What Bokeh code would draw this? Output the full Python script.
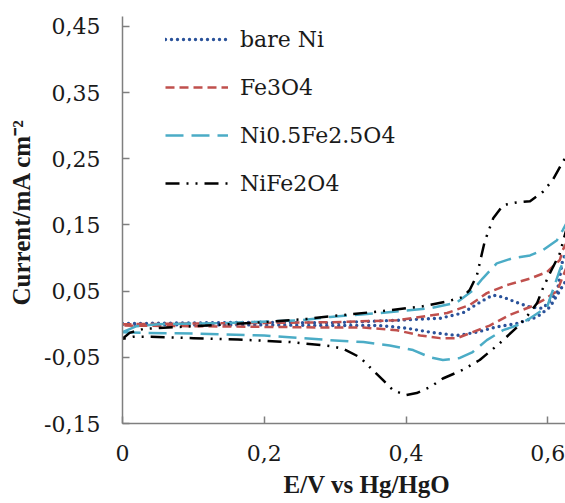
from bokeh.plotting import figure
from bokeh.models import Range1d, FixedTicker, Legend, LegendItem, Title
from bokeh.embed import file_html
from bokeh.resources import INLINE

# ---- data (E / V vs Hg/HgO, I / mA cm-2), forward sweep then return sweep ----
series_names = ["bare Ni", "Fe3O4", "Ni0.5Fe2.5O4", "NiFe2O4"]

bare_ni_E = [0, 0.1, 0.2, 0.293, 0.387, 0.448, 0.480, 0.504, 0.522, 0.537, 0.556, 0.575, 0.593,
             0.613, 0.621, 0.635,
             0.628, 0.603, 0.585, 0.556, 0.528, 0.500, 0.472, 0.434, 0.401, 0.363, 0.293, 0.2, 0.1, 0]
bare_ni_I = [0.001, 0.002, 0.003, 0.002, 0.006, 0.009, 0.017, 0.033, 0.044, 0.041, 0.033, 0.026, 0.024,
             0.047, 0.097, 0.13,
             0.07, 0.026, 0.011, 0.001, -0.004, -0.012, -0.017, -0.012, -0.006, -0.002, -0.002, -0.001, -0.001, 0.0]

fe3o4_E = [0, 0.1, 0.2, 0.293, 0.387, 0.458, 0.490, 0.514, 0.542, 0.575, 0.599, 0.617, 0.621, 0.635,
           0.628, 0.613, 0.593, 0.575, 0.546, 0.518, 0.494, 0.472, 0.448, 0.420, 0.387, 0.340, 0.293, 0.2, 0.1, 0]
fe3o4_I = [0.0, 0.001, 0.002, 0.003, 0.006, 0.017, 0.029, 0.047, 0.059, 0.069, 0.079, 0.097, 0.112, 0.14,
           0.09, 0.05, 0.036, 0.026, 0.014, -0.002, -0.012, -0.021, -0.021, -0.017, -0.009, -0.005, -0.005,
           -0.004, -0.003, -0.002]

ni05_E = [0, 0.02, 0.05, 0.15, 0.25, 0.293, 0.363, 0.434, 0.472, 0.494, 0.508, 0.528, 0.551, 0.575,
          0.593, 0.613, 0.621, 0.635,
          0.628, 0.617, 0.599, 0.575, 0.556, 0.537, 0.514, 0.494, 0.476, 0.452, 0.434, 0.410, 0.377, 0.340,
          0.293, 0.2, 0.1, 0.03, 0]
ni05_I = [-0.012, -0.003, 0.0, 0.002, 0.006, 0.011, 0.017, 0.024, 0.033, 0.051, 0.069, 0.092, 0.100, 0.104,
          0.112, 0.127, 0.142, 0.17,
          0.11, 0.082, 0.026, 0.009, -0.002, -0.009, -0.024, -0.042, -0.051, -0.054, -0.050, -0.039, -0.032,
          -0.027, -0.024, -0.017, -0.014, -0.013, -0.012]

nife2o4_E = [0, 0.01, 0.03, 0.1, 0.2, 0.26, 0.293, 0.359, 0.423, 0.46, 0.48, 0.49, 0.5, 0.511, 0.523,
             0.537, 0.556, 0.575, 0.593, 0.607, 0.621, 0.635,
             0.628, 0.617, 0.603, 0.593, 0.585, 0.570, 0.556, 0.532, 0.504, 0.480, 0.452, 0.434, 0.415,
             0.400, 0.382, 0.368, 0.349, 0.335, 0.311, 0.293, 0.237, 0.163, 0.1, 0.04, 0.015, 0]
nife2o4_I = [-0.022, -0.013, -0.007, -0.003, 0.003, 0.008, 0.012, 0.019, 0.027, 0.035, 0.041, 0.052, 0.074,
             0.125, 0.160, 0.180, 0.184, 0.186, 0.200, 0.218, 0.245, 0.27,
             0.15, 0.107, 0.077, 0.054, 0.032, 0.011, -0.005, -0.029, -0.054, -0.069, -0.082, -0.095, -0.104,
             -0.107, -0.100, -0.085, -0.065, -0.050, -0.037, -0.033, -0.027, -0.023, -0.021, -0.019, -0.019,
             -0.022]

x_ticks = [0, 0.2, 0.4, 0.6]
x_tick_labels = ["0", "0,2", "0,4", "0,6"]
y_ticks = [-0.15, -0.05, 0.05, 0.15, 0.25, 0.35, 0.45]
y_tick_labels = ["-0,15", "-0,05", "0,05", "0,15", "0,25", "0,35", "0,45"]

x_title = "E/V vs Hg/HgO"
y_title = "Current/mA cm\u207b\u00b2"

BOLD_FONT = "'Liberation Serif', 'Times New Roman', Times, serif"
REG_FONT = "'DejaVu Serif', serif"

p = figure(width=565, height=503, output_backend="svg", toolbar_location=None,
           x_range=Range1d(0, 0.625), y_range=Range1d(-0.15, 0.465),
           min_border_left=122, min_border_right=0, min_border_top=16, min_border_bottom=80)
p.outline_line_color = None
p.background_fill_color = "white"
p.border_fill_color = "white"
p.xgrid.visible = False
p.ygrid.visible = False

for ax, ticks, labels in ((p.xaxis[0], x_ticks, x_tick_labels), (p.yaxis[0], y_ticks, y_tick_labels)):
    ax.ticker = FixedTicker(ticks=ticks)
    ax.major_label_overrides = {t: l for t, l in zip(ticks, labels)}
    ax.minor_tick_line_color = None
    ax.major_tick_in = 7
    ax.major_tick_out = 0
    ax.axis_line_color = "#7f7f7f"
    ax.axis_line_width = 1.5
    ax.major_tick_line_color = "#7f7f7f"
    ax.major_tick_line_width = 1.5
    ax.major_label_text_font = REG_FONT
    ax.major_label_text_font_size = "22px"
    ax.major_label_text_color = "#1a1a1a"
p.yaxis[0].major_label_standoff = 22
p.xaxis[0].major_label_standoff = 21

styles = [
    (bare_ni_E, bare_ni_I, "#2a529a", "0 6", 3.4, "round"),
    (fe3o4_E, fe3o4_I, "#c0504d", "9 5", 2.5, "butt"),
    (ni05_E, ni05_I, "#4bacc6", "18 8", 2.5, "butt"),
    (nife2o4_E, nife2o4_I, "#000000", "14 7 2 7 2 7", 2.5, "butt"),
]
items = []
for name, (xs, ys, col, dash, lw, cap) in zip(series_names, styles):
    r = p.line(xs, ys, line_color=col, line_dash=dash, line_width=lw, line_cap=cap, line_join="round")
    items.append(LegendItem(label=name, renderers=[r]))

legend = Legend(items=items, location=(43, 225), padding=0, margin=0,
                border_line_color=None, background_fill_alpha=0,
                glyph_width=63, glyph_height=30, label_height=30, spacing=18,
                label_standoff=12, label_text_font=REG_FONT, label_text_font_size="22px",
                label_text_color="#1a1a1a")
p.add_layout(legend, "center")

p.add_layout(Title(text=x_title, align="left", offset=161, standoff=10, vertical_align="bottom",
                   text_font=BOLD_FONT, text_font_style="bold", text_font_size="25px",
                   text_color="#1a1a1a"), "below")
p.add_layout(Title(text=y_title, align="left", offset=118, standoff=12, vertical_align="middle",
                   text_font=BOLD_FONT, text_font_style="bold", text_font_size="25px",
                   text_color="#1a1a1a"), "left")

open("out.html", "w").write(file_html(p, INLINE))
